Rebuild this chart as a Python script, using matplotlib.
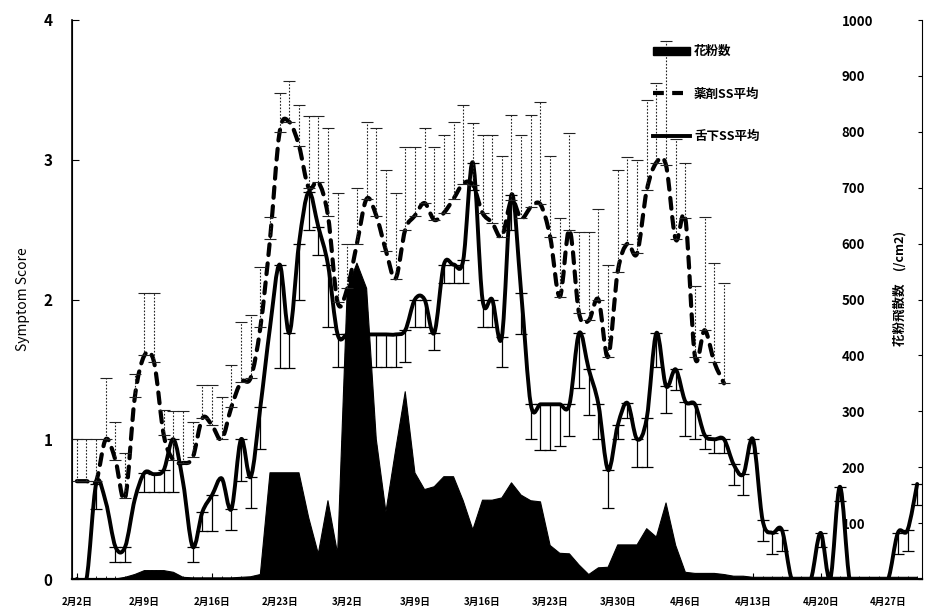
import numpy as np
import matplotlib
matplotlib.use("Agg")
import matplotlib.pyplot as plt
from matplotlib.path import Path
from matplotlib.patches import PathPatch, Patch
from matplotlib.lines import Line2D

plt.rcParams["font.family"] = ["Noto Sans CJK JP", "DejaVu Sans"]
plt.rcParams["hatch.color"] = "#5a5a5a"
plt.rcParams["hatch.linewidth"] = 0.6

# days counted from 2/2 (0) to 4/30 (87)
tick_days = [0, 7, 14, 21, 28, 35, 42, 49, 56, 63, 70, 77, 84]
tick_labels = ["2月2日", "2月9日", "2月16日", "2月23日", "3月2日", "3月9日", "3月16日",
               "3月23日", "3月30日", "4月6日", "4月13日", "4月20日", "4月27日"]

# 舌下SS平均 (solid), days 0..87
sublingual = [0, 0, 0.68, 0.55, 0.23, 0.23, 0.57, 0.76, 0.75, 0.78,
              1.0, 0.69, 0.23, 0.48, 0.6, 0.72, 0.5, 1.0, 0.73, 1.23,
              1.8, 2.25, 1.76, 2.4, 2.77, 2.52, 2.25, 1.75, 1.75, 1.75,
              1.75, 1.75, 1.75, 1.75, 1.78, 2.0, 2.0, 1.76, 2.25, 2.25,
              2.28, 2.98, 2.0, 2.0, 1.73, 2.75, 2.05, 1.25, 1.25, 1.25,
              1.25, 1.25, 1.76, 1.5, 1.25, 0.78, 1.1, 1.26, 1.0, 1.15,
              1.76, 1.38, 1.5, 1.27, 1.25, 1.03, 1.0, 1.0, 0.82, 0.75,
              1.0, 0.42, 0.33, 0.35, 0, 0, 0, 0.33, 0, 0.66,
              0, 0, 0, 0, 0, 0.33, 0.35, 0.68]
sublingual_err = [0, 0, 0.18, 0, 0.11, 0.11, 0, 0.14, 0.13, 0.16,
                  0.38, 0, 0.11, 0.14, 0.26, 0, 0.15, 0.3, 0.22, 0.3,
                  0, 0.74, 0.25, 0.4, 0.27, 0.2, 0.45, 0.23, 0.23, 0.23,
                  0.23, 0.23, 0.23, 0.23, 0.23, 0.2, 0.2, 0.12, 0.13, 0.13,
                  0.16, 0.2, 0.2, 0.2, 0.21, 0.25, 0.3, 0.25, 0.33, 0.33,
                  0.3, 0.23, 0.39, 0.33, 0.25, 0.27, 0.1, 0.11, 0.2, 0.35,
                  0.24, 0.19, 0.15, 0.25, 0.25, 0.1, 0.1, 0.1, 0.15, 0.15,
                  0.1, 0.15, 0.15, 0.15, 0, 0, 0, 0.1, 0, 0.1,
                  0, 0, 0, 0, 0, 0.15, 0.15, 0.15]

# 薬剤SS平均 (dashed), days 0..67
drug = [0.7, 0.7, 0.7, 1.0, 0.85, 0.58, 1.3, 1.6, 1.55, 1.03,
        0.85, 0.83, 0.87, 1.15, 1.1, 1.0, 1.23, 1.41, 1.44, 1.8,
        2.43, 3.2, 3.27, 3.1, 2.8, 2.84, 2.6, 1.98, 2.08, 2.4,
        2.72, 2.6, 2.35, 2.15, 2.5, 2.6, 2.69, 2.57, 2.62, 2.72,
        2.83, 2.82, 2.62, 2.55, 2.45, 2.71, 2.58, 2.66, 2.68, 2.45,
        2.02, 2.5, 1.9, 1.85, 2.0, 1.59, 2.2, 2.4, 2.33, 2.78,
        2.98, 2.96, 2.43, 2.58, 1.59, 1.78, 1.55, 1.4]
drug_err = [0.3, 0.3, 0.3, 0.44, 0.27, 0.32, 0.17, 0.45, 0.5, 0.18,
            0.35, 0.37, 0.25, 0.24, 0.29, 0.3, 0.3, 0.43, 0.45, 0.43,
            0.16, 0.28, 0.29, 0.29, 0.51, 0.47, 0.63, 0.78, 0.32, 0.4,
            0.55, 0.63, 0.58, 0.61, 0.59, 0.49, 0.54, 0.52, 0.56, 0.55,
            0.56, 0.44, 0.56, 0.63, 0.58, 0.61, 0.6, 0.66, 0.73, 0.58,
            0.56, 0.69, 0.58, 0.63, 0.65, 0.66, 0.73, 0.62, 0.67, 0.65,
            0.57, 0.89, 0.72, 0.4, 0.51, 0.81, 0.71, 0.72]

# 花粉数 (/cm2), days 0..87
pollen = [0, 0, 0, 0, 0, 3, 8, 15, 15, 15,
          12, 3, 2, 2, 2, 2, 2, 3, 4, 8,
          190, 190, 190, 190, 110, 45, 140, 45, 520, 565,
          520, 250, 120, 230, 335, 190, 160, 165, 183, 183,
          140, 88, 141, 141, 145, 172, 150, 140, 138, 60,
          46, 45, 25, 8, 20, 21, 61, 61, 61, 90,
          75, 136, 60, 12, 10, 10, 10, 8, 5, 5,
          3, 3, 3, 3, 3, 3, 3, 3, 3, 3,
          3, 3, 3, 3, 3, 3, 3, 3]


def smooth_path(xs, ys):
    # Catmull-Rom style cubic bezier through the points (like a smoothed line)
    pts = np.column_stack([xs, ys]).astype(float)
    n = len(pts)
    verts = [pts[0]]
    codes = [Path.MOVETO]
    for i in range(n - 1):
        p0 = pts[i - 1] if i > 0 else pts[i]
        p1 = pts[i]
        p2 = pts[i + 1]
        p3 = pts[i + 2] if i + 2 < n else pts[i + 1]
        verts += [p1 + (p2 - p0) / 6, p2 - (p3 - p1) / 6, p2]
        codes += [Path.CURVE4] * 3
    return Path(verts, codes)


fig = plt.figure(figsize=(9.25, 6.11), dpi=100)
ax = fig.add_axes([72 / 925, 32 / 611, 850 / 925, 559 / 611])
ax2 = ax.twinx()

days_all = np.arange(len(sublingual))
days_drug = np.arange(len(drug))

# pollen area on the secondary axis
ax2.fill_between(days_all, 0, pollen, facecolor="black", edgecolor="black",
                 hatch="....", linewidth=0.8)
ax2.set_ylim(0, 1000)

# put symptom lines above the pollen area
ax.set_zorder(ax2.get_zorder() + 1)
ax.patch.set_visible(False)

# error bars
se = np.array(sublingual_err)
m = se > 0
eb = ax.errorbar(days_all[m], np.array(sublingual)[m], yerr=[se[m], np.zeros(m.sum())],
                 fmt="none", ecolor="black", elinewidth=0.9, capsize=4, capthick=0.9)
de = np.array(drug_err)
eb2 = ax.errorbar(days_drug, drug, yerr=[np.zeros(len(de)), de],
                  fmt="none", ecolor="#222222", elinewidth=0.8, capsize=4, capthick=0.8)
eb2[2][0].set_linestyle((0, (1.5, 1.5)))

ax.add_patch(PathPatch(smooth_path(days_all, sublingual), fill=False,
                       edgecolor="black", linewidth=2.8, capstyle="round",
                       joinstyle="round"))
ax.add_patch(PathPatch(smooth_path(days_drug, drug), fill=False,
                       edgecolor="black", linewidth=3.0, linestyle=(0, (2.6, 2.0)),
                       capstyle="round", joinstyle="round"))

ax.set_xlim(-0.5, 87.5)
ax.set_ylim(0, 4)
ax.set_yticks([0, 1, 2, 3, 4])
ax.set_xticks(tick_days)
ax.set_xticklabels(tick_labels, fontsize=7, fontweight="bold")
ax.set_xticks(days_all, minor=True)
ax.tick_params(axis="x", which="major", direction="in", length=4, pad=13)
ax.tick_params(axis="x", which="minor", direction="in", length=2.5)
ax.tick_params(axis="y", direction="in", length=5, pad=14, labelsize=11)
for t in ax.get_yticklabels():
    t.set_fontweight("bold")
ax.set_ylabel("Symptom Score", fontsize=10, labelpad=10)

ax2.set_yticks(range(0, 1001, 100))
ax2.set_yticklabels(["", "100", "200", "300", "400", "500", "600", "700", "800",
                     "900", "1000"], fontsize=9.5, fontweight="bold")
ax2.tick_params(axis="y", direction="in", length=3, pad=-58)
ax2.set_ylabel("花粉飛散数　(/cm2)", fontsize=9, fontweight="bold")
ax2.yaxis.set_label_coords(0.966, 0.52)

for a in (ax, ax2):
    a.spines["top"].set_visible(False)
ax.spines["bottom"].set_linewidth(1.6)
ax.spines["left"].set_linewidth(1.2)
ax2.spines["right"].set_linewidth(0.5)
ax2.spines["right"].set_color("#999999")

handles = [Patch(facecolor="black", edgecolor="black", hatch="...."),
           Line2D([], [], color="black", lw=3.0, ls=(0, (2.6, 2.0))),
           Line2D([], [], color="black", lw=2.8)]
leg = ax.legend(handles, ["花粉数", "薬剤SS平均", "舌下SS平均"], loc="upper left",
                bbox_to_anchor=(0.67, 0.975), frameon=False, fontsize=9,
                handlelength=3.0, handleheight=0.6, labelspacing=2.35,
                handletextpad=0.3)
for t in leg.get_texts():
    t.set_fontweight("bold")

fig.savefig("out.png", dpi=100)
